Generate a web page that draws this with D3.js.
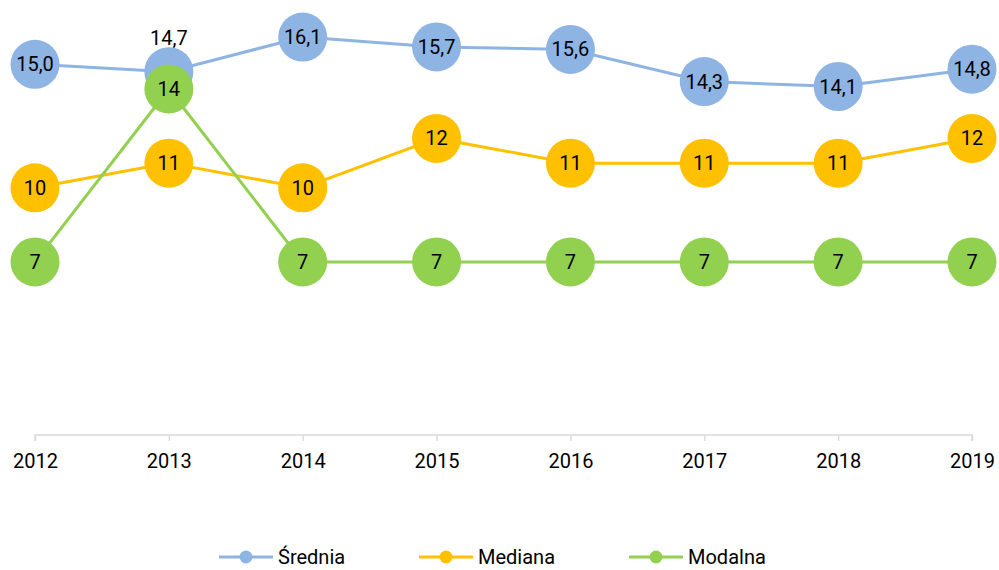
<!DOCTYPE html>
<html>
<head>
<meta charset="utf-8">
<script src="https://cdn.jsdelivr.net/npm/d3@7"></script>
<style>
  body { margin: 0; background: #fff; }
  svg { display: block; font-family: Roboto, sans-serif; }
</style>
</head>
<body>
<svg id="chart" width="999" height="570"></svg>
<script>
const YEARS = ['2012', '2013', '2014', '2015', '2016', '2017', '2018', '2019']
const SREDNIA = [15.0, 14.7, 16.1, 15.7, 15.6, 14.3, 14.1, 14.8]
const MEDIANA = [10, 11, 10, 12, 11, 11, 11, 12]
const MODALNA = [7, 14, 7, 7, 7, 7, 7, 7]
const NAMES = ['Średnia', 'Mediana', 'Modalna']
const COLORS = ['#8EB4E3', '#FFC000', '#92D050']

const series = [
    { name: NAMES[0], values: SREDNIA, color: COLORS[0], fmt: v => v.toFixed(1).replace('.', ',') },
    { name: NAMES[1], values: MEDIANA, color: COLORS[1], fmt: v => String(v) },
    { name: NAMES[2], values: MODALNA, color: COLORS[2], fmt: v => String(v) }
]

const svg = d3.select('#chart')

const x = d3.scalePoint()
    .domain(YEARS)
    .range([35, 972])

const y = d3.scaleLinear()
    .domain([0, 17.6])
    .range([435, 0])

// axis
const axis = svg.append('g')
    .attr('transform', `translate(0, ${y(0)})`)
    .call(d3.axisBottom(x).tickSize(6).tickPadding(13))
axis.select('.domain')
    .attr('d', `M${x(YEARS[0])},6V0H${x(YEARS[YEARS.length - 1])}V6`)
    .attr('stroke', '#D9D9D9')
    .attr('stroke-width', 1.3)
axis.selectAll('.tick line').attr('stroke', '#D9D9D9').attr('stroke-width', 1.3)
axis.selectAll('.tick text')
    .attr('font-family', 'Roboto, sans-serif')
    .attr('font-size', 20)
    .attr('fill', '#000')

const line = d3.line()
    .x((d, i) => x(YEARS[i]))
    .y(d => y(d))

series.forEach(s => {
    const g = svg.append('g')
    g.append('path')
        .datum(s.values)
        .attr('d', line)
        .attr('fill', 'none')
        .attr('stroke', s.color)
        .attr('stroke-width', 3)

    g.selectAll('circle')
        .data(s.values)
        .enter()
        .append('circle')
            .attr('cx', (d, i) => x(YEARS[i]))
            .attr('cy', d => y(d))
            .attr('r', 24.5)
            .attr('fill', s.color)

    g.selectAll('text')
        .data(s.values)
        .enter()
        .append('text')
            .attr('x', (d, i) => x(YEARS[i]))
            .attr('y', (d, i) => (s.name === 'Średnia' && i === 1) ? y(d) - 34 : y(d))
            .attr('dy', '0.35em')
            .attr('text-anchor', 'middle')
            .attr('font-size', 20)
            .attr('fill', '#000')
            .text(d => s.fmt(d))
})

// legend
const legendX = [219, 419, 629]
const legend = svg.append('g')
    .attr('transform', 'translate(0, 557)')
    .selectAll('g')
    .data(series)
    .enter()
    .append('g')
        .attr('transform', (d, i) => `translate(${legendX[i]}, 0)`)

legend.append('line')
    .attr('x1', 0).attr('x2', 54)
    .attr('stroke', d => d.color)
    .attr('stroke-width', 3)
legend.append('circle')
    .attr('cx', 27)
    .attr('r', 6.5)
    .attr('fill', d => d.color)
legend.append('text')
    .attr('x', 59)
    .attr('dy', '0.35em')
    .attr('font-size', 20)
    .attr('fill', '#000')
    .text(d => d.name)
</script>
</body>
</html>
